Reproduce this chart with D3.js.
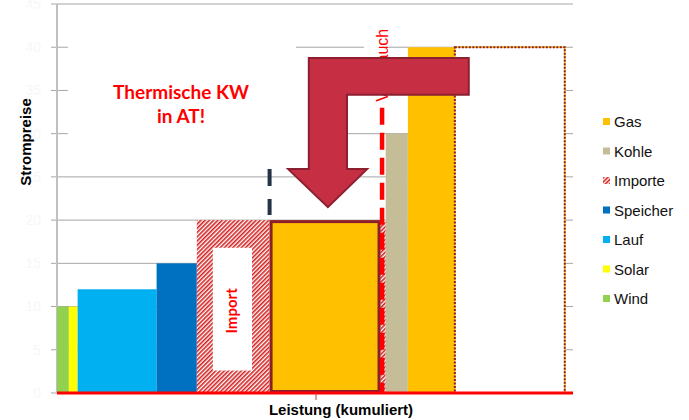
<!DOCTYPE html>
<html>
<head>
<meta charset="utf-8">
<script src="https://cdn.jsdelivr.net/npm/d3@7"></script>
<style>
  body { margin: 0; background: #fff; }
  svg { display: block; font-family: Arial, "Liberation Sans", sans-serif; }
</style>
</head>
<body>
<div id="chart-area"></div>
<script>
// merit order: one block per power source, left to right
const sources = ['Wind', 'Solar', 'Lauf', 'Speicher', 'Importe', 'Gas', 'Importe', 'Kohle', 'Gas'];
const capacities = [2.3, 1.7, 15.3, 7.8, 14.1, 21.5, 1.0, 4.3, 9.1];
const prices = [10, 10, 12, 15, 20, 20, 20, 30, 40];
const hiddenCapacity = 21.3;
const hiddenPrice = 40;
const demand = 63.0;
const yTicks = [0, 5, 10, 15, 20, 25, 30, 35, 40, 45];
const legendItems = ['Gas', 'Kohle', 'Importe', 'Speicher', 'Lauf', 'Solar', 'Wind'];

const chartSize = { width: 689, height: 420 };
const plot = { left: 57, right: 573, top: 4, bottom: 393 };
const colors = {
  Gas: '#FFC000', Kohle: '#C4BD97', Importe: 'url(#hatch)',
  Speicher: '#0070C0', Lauf: '#00B0F0', Solar: '#FFFF00', Wind: '#92D050'
};
const highlightIndex = 5;
const darkRed = '#8C1F2F';

const x = d3.scaleLinear().domain([0, 100]).range([plot.left, plot.right]);
const y = d3.scaleLinear().domain([0, 45]).range([plot.bottom, plot.top]);

const svg = d3.select('#chart-area').append('svg')
  .attr('width', chartSize.width)
  .attr('height', chartSize.height);

const pattern = svg.append('defs').append('pattern')
  .attr('id', 'hatch')
  .attr('patternUnits', 'userSpaceOnUse')
  .attr('width', 3).attr('height', 3)
  .attr('patternTransform', 'rotate(45)');
pattern.append('rect').attr('width', 3).attr('height', 3).attr('fill', '#fff');
pattern.append('rect').attr('width', 1.6).attr('height', 3).attr('fill', '#D42020');

// grid lines + (almost invisible) tick labels
const grid = svg.append('g').attr('class', 'grid');
grid.selectAll('line').data(yTicks).join('line')
  .attr('x1', plot.left - 6).attr('x2', plot.right)
  .attr('y1', d => y(d)).attr('y2', d => y(d))
  .attr('stroke', '#A6A6A6').attr('stroke-width', 1);
grid.selectAll('text').data(yTicks).join('text')
  .attr('x', 41).attr('y', d => y(d)).attr('dy', '0.35em')
  .attr('text-anchor', 'end').attr('font-size', 14)
  .attr('fill', '#F7F7F7').text(d => d);

// white text boxes hiding part of the grid
svg.append('rect').attr('x', x(2.1)).attr('y', y(41.5)).attr('width', x(46.3) - x(2.1)).attr('height', y(26.5) - y(41.5)).attr('fill', '#fff');
svg.append('rect').attr('x', x(46.3)).attr('y', y(38)).attr('width', x(49) - x(46.3)).attr('height', y(26.5) - y(38)).attr('fill', '#fff');

// axis line
svg.append('line')
  .attr('x1', plot.left).attr('x2', plot.left)
  .attr('y1', plot.top).attr('y2', plot.bottom)
  .attr('stroke', '#C0C0C0').attr('stroke-width', 2);

const starts = d3.cumsum([0, ...capacities]);
const blocks = sources.map((s, i) => ({ source: s, x0: starts[i], x1: starts[i + 1], price: prices[i], i }));

svg.append('g').selectAll('rect').data(blocks).join('rect')
  .attr('x', d => x(d.x0))
  .attr('y', d => y(d.price))
  .attr('width', d => x(d.x1) - x(d.x0))
  .attr('height', d => y(0) - y(d.price))
  .attr('fill', d => colors[d.source]);

// highlighted gas block
const hl = blocks[highlightIndex];
svg.append('rect')
  .attr('x', x(hl.x0) + 1.5).attr('y', y(hl.price) + 1.5)
  .attr('width', x(hl.x1) - x(hl.x0) - 3).attr('height', y(0) - y(hl.price) - 3)
  .attr('fill', 'none').attr('stroke', darkRed).attr('stroke-width', 3);

// hidden remaining capacity (dotted)
const hStart = starts[starts.length - 1];
svg.append('rect')
  .attr('x', x(hStart)).attr('y', y(hiddenPrice))
  .attr('width', x(hStart + hiddenCapacity) - x(hStart))
  .attr('height', y(0) - y(hiddenPrice))
  .attr('fill', '#fff').attr('stroke', '#FFC000').attr('stroke-width', 1.5);
svg.append('rect')
  .attr('x', x(hStart)).attr('y', y(hiddenPrice))
  .attr('width', x(hStart + hiddenCapacity) - x(hStart))
  .attr('height', y(0) - y(hiddenPrice))
  .attr('fill', 'none').attr('stroke', darkRed).attr('stroke-width', 2)
  .attr('stroke-dasharray', '2,1.5');

// "Import" label box
const imp = blocks[4];
svg.append('rect')
  .attr('x', x(imp.x0 + 3.1)).attr('y', y(16.8))
  .attr('width', x(imp.x0 + 10.7) - x(imp.x0 + 3.1)).attr('height', y(2.6) - y(16.8))
  .attr('fill', '#fff');
svg.append('text')
  .attr('transform', `translate(${x(imp.x0 + 6.9) + 5},${y(9.5)}) rotate(-90)`)
  .attr('text-anchor', 'middle')
  .attr('font-family', 'Lato, "Open Sans", sans-serif').attr('font-weight', 'bold')
  .attr('font-size', 15).attr('fill', '#FF0000')
  .text('Import');

// x axis (red)
svg.append('line')
  .attr('x1', plot.left).attr('x2', plot.right)
  .attr('y1', y(0)).attr('y2', y(0))
  .attr('stroke', '#FF0000').attr('stroke-width', 3);
svg.append('line')
  .attr('x1', x(50.2)).attr('x2', x(50.2))
  .attr('y1', y(0)).attr('y2', y(0) + 7)
  .attr('stroke', '#C04040').attr('stroke-width', 1);

// dark dashed marker at end of imports
svg.append('line')
  .attr('x1', x(imp.x1)).attr('x2', x(imp.x1))
  .attr('y1', y(25.9)).attr('y2', y(20.6))
  .attr('stroke', '#243447').attr('stroke-width', 4)
  .attr('stroke-dasharray', '17,13');

// Verbrauch
svg.append('rect')
  .attr('x', x(demand) - 18).attr('y', y(44))
  .attr('width', 24).attr('height', y(33.4) - y(44))
  .attr('fill', '#fff');
svg.append('text')
  .attr('transform', `translate(${x(demand) + 6},${y(33.7)}) rotate(-90)`)
  .attr('font-size', 16).attr('fill', '#FF0000')
  .text('Verbrauch');
svg.append('line')
  .attr('x1', x(demand)).attr('x2', x(demand))
  .attr('y1', y(33.0)).attr('y2', y(0))
  .attr('stroke', '#FF0000').attr('stroke-width', 4.5)
  .attr('stroke-dasharray', '17,8');

// big arrow
const arrowPts = [[48.8, 38.75], [79.8, 38.75], [79.8, 34.5], [56.2, 34.5], [56.2, 25.9],
  [60.1, 25.9], [52.5, 21.5], [44.8, 25.9], [48.8, 25.9]];
svg.append('path')
  .attr('d', d3.line().x(p => x(p[0])).y(p => y(p[1]))(arrowPts) + 'Z')
  .attr('fill', '#C62F43').attr('stroke', darkRed).attr('stroke-width', 2);

// annotation text
const note = svg.append('text')
  .attr('text-anchor', 'middle')
  .attr('font-family', 'Lato, "Open Sans", sans-serif').attr('font-weight', 'bold')
  .attr('font-size', 19).attr('fill', '#FF0000');
note.append('tspan').attr('x', 181).attr('y', 99).text('Thermische KW');
note.append('tspan').attr('x', 181).attr('y', 123).text('in AT!');

// axis titles
svg.append('text')
  .attr('transform', `translate(31,142) rotate(-90)`)
  .attr('text-anchor', 'middle').attr('font-weight', 'bold').attr('font-size', 15)
  .text('Strompreise');
svg.append('text')
  .attr('x', 341).attr('y', 415)
  .attr('text-anchor', 'middle').attr('font-weight', 'bold').attr('font-size', 15)
  .text('Leistung (kumuliert)');

// legend
const legend = svg.append('g').attr('transform', 'translate(603,122)');
const items = legend.selectAll('g').data(legendItems).join('g')
  .attr('transform', (d, i) => `translate(0,${i * 29.5})`);
items.append('rect')
  .attr('x', 0).attr('y', -4).attr('width', 7).attr('height', 7)
  .attr('fill', d => colors[d]);
items.append('text')
  .attr('x', 11).attr('y', 0).attr('dy', '0.35em')
  .attr('font-size', 15).attr('fill', '#111')
  .text(d => d);
</script>
</body>
</html>
